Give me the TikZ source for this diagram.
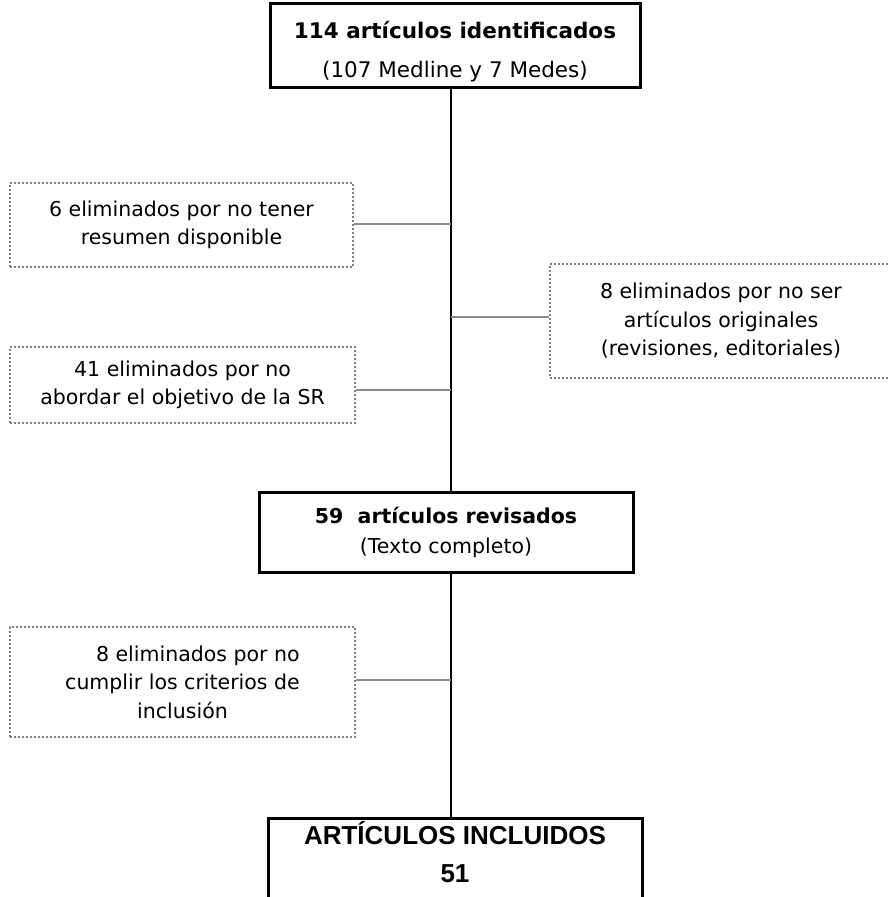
\documentclass[tikz,border=0pt]{standalone}
\usepackage{fontspec}
\setmainfont{DejaVu Sans}
\newfontfamily\arialfont{Liberation Sans}
\begin{document}
\begin{tikzpicture}[x=1pt,y=-1pt,
	mainbox/.style={draw=black, line width=3pt, align=center, inner sep=0pt},
	dropbox/.style={draw=gray, line width=2.2pt, dash pattern=on 2pt off 2pt,
		align=center, inner sep=0pt, font=\fontsize{20.5}{28.5}\selectfont},
	branch/.style={draw=gray!90, line width=2.2pt},
	spinestyle/.style={draw=black, line width=2.8pt}]
		\clip (0,0) rectangle (889,897);
		\fill[white] (0,0) rectangle (889,897);
		\coordinate (spine) at (451,0);
		% main boxes
		\node[mainbox, minimum width=370, minimum height=84, font=\fontsize{21.5}{39}\selectfont] (ident) at (455,45)
			{\rule{0pt}{30pt}\textbf{114 artículos identificados}\\(107 Medline y 7 Medes)};
		\node[mainbox, minimum width=374, minimum height=80, font=\fontsize{20.5}{30}\selectfont] (revis) at (446,532)
			{\textbf{59~ artículos revisados}\\(Texto completo)};
		\node[mainbox, anchor=north, minimum width=374, inner ysep=3pt, text depth=40pt, font=\arialfont\bfseries\fontsize{26}{38}\selectfont] (incl) at (455,817)
			{ARTÍCULOS INCLUIDOS\\51};
		% excluded boxes
		\node[dropbox, minimum width=343, minimum height=84] (sinres) at (181.5,225)
			{6 eliminados por no tener\\resumen disponible};
		\node[dropbox, minimum width=342, minimum height=114] (noorig) at (721,321)
			{8 eliminados por no ser\\artículos originales\\(revisiones, editoriales)};
		\node[dropbox, minimum width=345, minimum height=76] (noobj) at (182.5,385)
			{41 eliminados por no\\abordar el objetivo de la SR};
		\node[dropbox, minimum width=345, minimum height=110] (nocrit) at (182.5,682)
			{\hspace*{1.5em}8 eliminados por no\\cumplir los criterios de\\inclusión};
		% connectors
		\draw[spinestyle] (ident.south -| spine) -- (revis.north -| spine);
		\draw[spinestyle] (revis.south -| spine) -- (incl.north -| spine);
		\draw[branch] ([yshift=1pt]sinres.east) -- ([yshift=1pt]sinres.east -| spine);
		\draw[branch] ([yshift=4pt]noorig.west) -- ([yshift=4pt]noorig.west -| spine);
		\draw[branch] ([yshift=-5pt]noobj.east) -- ([yshift=-5pt]noobj.east -| spine);
		\draw[branch] ([yshift=2pt]nocrit.east) -- ([yshift=2pt]nocrit.east -| spine);
	\end{tikzpicture}
\end{document}
